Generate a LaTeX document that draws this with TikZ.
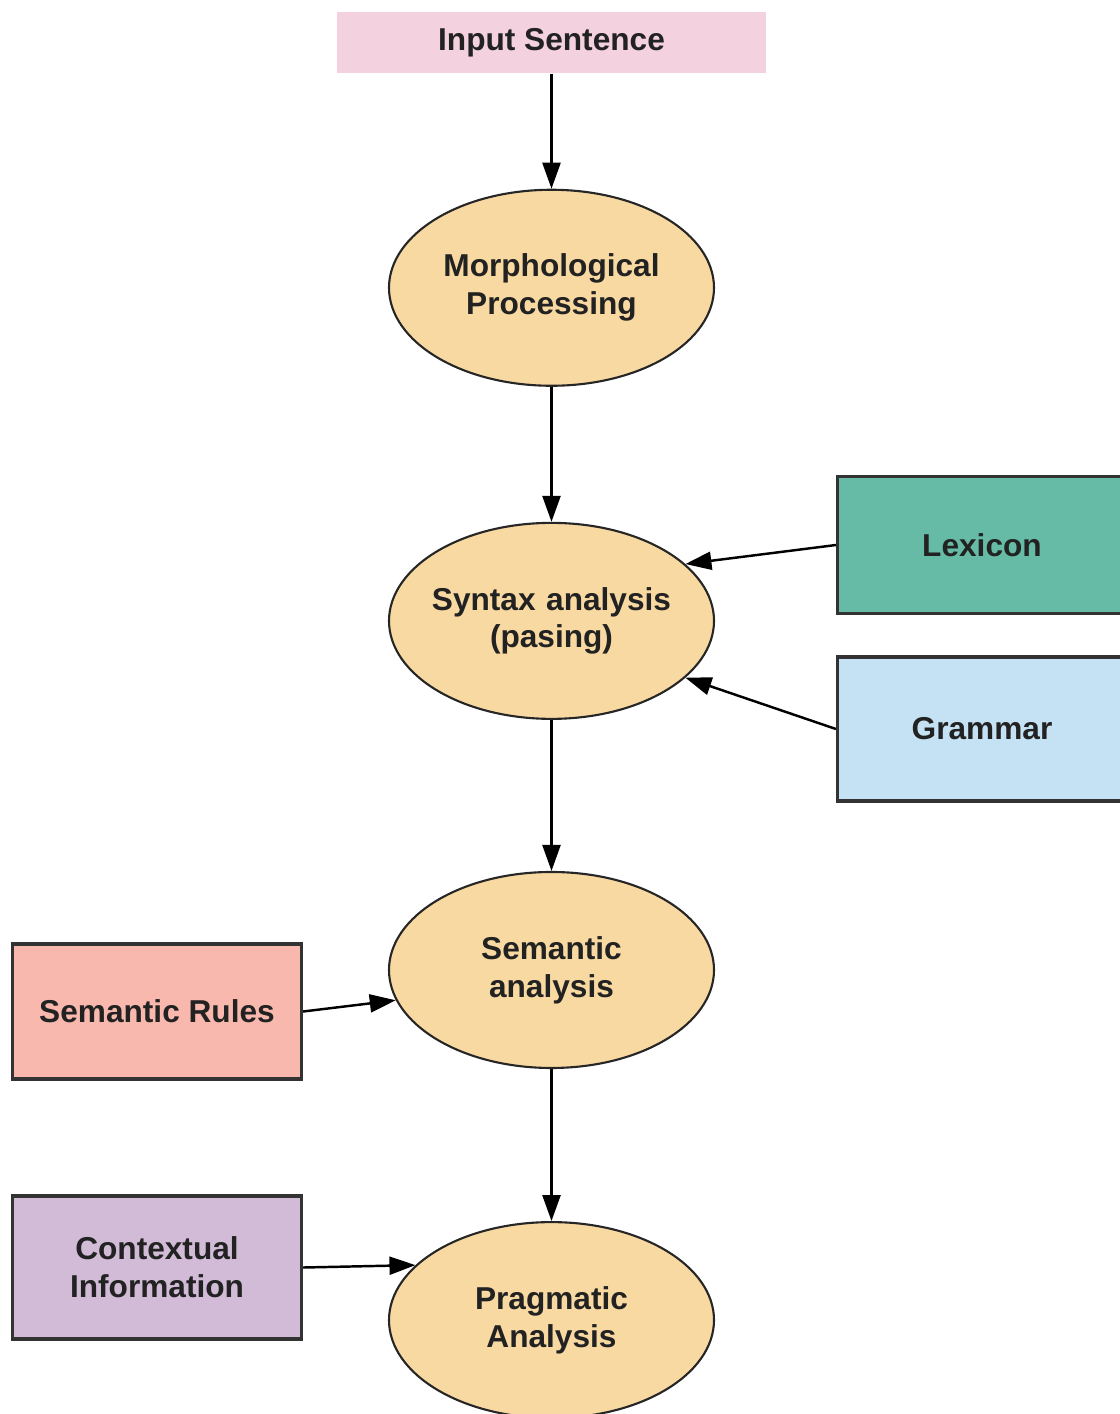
\documentclass[tikz,border=0pt]{standalone}
\usepackage{fontspec}
\setmainfont{Liberation Sans}
\usepackage{tikz}
\usetikzlibrary{positioning}
\usetikzlibrary{shapes.geometric}
\usetikzlibrary{arrows.meta}

\definecolor{inputpink}{HTML}{F4D1DF}
\definecolor{procorange}{HTML}{F9D9A2}
\definecolor{lexteal}{HTML}{66BBA6}
\definecolor{grammarblue}{HTML}{C5E2F5}
\definecolor{rulesalmon}{HTML}{F8B8AD}
\definecolor{contextlilac}{HTML}{D1BBD7}
\definecolor{edgegray}{HTML}{333333}
\definecolor{textdark}{HTML}{222222}

\begin{document}
\begin{tikzpicture}[auto,thick,
	proc node/.style={ellipse, draw=black!85, line width=1.2pt, fill=procorange,
		inner xsep=-0.4cm, inner ysep=0pt,
		minimum width=6.5cm, minimum height=3.92cm, text width=4.8cm, align=center, text=textdark,
		font=\fontsize{18}{21.5}\selectfont\bfseries},
	src node/.style={rectangle, draw=edgegray, line width=1.8pt, inner sep=0pt,
		minimum width=5.78cm, minimum height=2.75cm, align=center, text=textdark,
		font=\fontsize{18}{21.5}\selectfont\bfseries},
	input node/.style={rectangle, fill=inputpink, inner sep=0pt,
		minimum width=8.58cm, minimum height=1.22cm, text=textdark,
		font=\fontsize{18}{21.5}\selectfont\bfseries},
	flow/.style={-{Triangle[length=0.52cm,width=0.36cm]}, line width=1.4pt, black}]

	\useasboundingbox (0,0) rectangle (22.4,-28.28);

	% main chain
	\node[input node](Input) at (11.03,-0.85){Input Sentence};
	\node[proc node](Morph)[below = 2.30cm of Input]{Morphological\\Processing};
	\node[proc node](Syn)[below = 2.70cm of Morph]{Syntax analysis\\(pasing)};
	\node[proc node](Sem)[below = 3.02cm of Syn]{Semantic\\analysis};
	\node[proc node](Prag)[below = 3.04cm of Sem]{Pragmatic\\Analysis};

	% knowledge sources
	\node[src node, fill=lexteal](Lex) at (19.64,-10.90){Lexicon};
	\node[src node, fill=grammarblue, minimum height=2.88cm](Gram) at (19.64,-14.58){Grammar};
	\node[src node, fill=rulesalmon, minimum height=2.7cm](Rules) at (3.14,-20.23){Semantic Rules};
	\node[src node, fill=contextlilac, minimum height=2.86cm](Ctx) at (3.14,-25.35){Contextual\\Information};

	\draw[flow](Input)--(Morph);
	\draw[flow](Morph)--(Syn);
	\draw[flow](Syn)--(Sem);
	\draw[flow](Sem)--(Prag);

	\draw[flow](Lex.west)--(Syn.23);
	\draw[flow](Gram.west)--(Syn.-23);
	\draw[flow](Rules.east)--(Sem.191);
	\draw[flow](Ctx.east)--(Prag.158);
\end{tikzpicture}
\end{document}
